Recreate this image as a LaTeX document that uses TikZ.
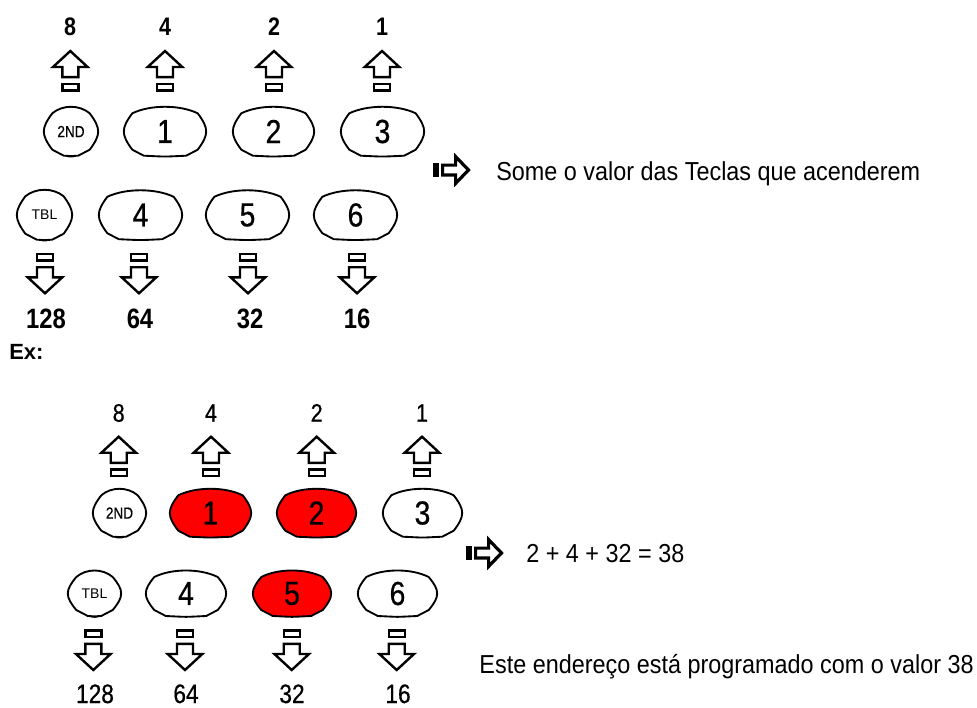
\documentclass[tikz,border=0pt]{standalone}
\usepackage{fontspec}
\setmainfont{Liberation Sans}
\newfontfamily\narrowfont{Liberation Sans}[FakeStretch=0.85]
\newfontfamily\keyfont{Liberation Sans}[FakeStretch=0.85, FakeBold=0.6]
\newfontfamily\notefont{Liberation Sans}[FakeStretch=0.9]
\usetikzlibrary{backgrounds}

\tikzset{every picture/.style={line width=0.75pt}}
\tikzset{
  keyline/.style={line width=1.4pt, line join=miter},
  blockline/.style={line width=1.8pt, line join=miter, fill=white},
  heavyline/.style={line width=2.4pt, line join=miter, fill=white},
  keydigit/.style={inner sep=0pt, font=\keyfont\fontsize{25}{29}\selectfont},
  keyword/.style={inner sep=0pt, font=\keyfont\fontsize{12}{14}\selectfont},
  weighttop/.style={inner sep=0pt, anchor=base, font=\narrowfont\bfseries\fontsize{19}{23}\selectfont},
  weightlow/.style={inner sep=0pt, anchor=base, font=\narrowfont\bfseries\fontsize{21}{25}\selectfont},
  weightthin/.style={inner sep=0pt, anchor=base, font=\keyfont\fontsize{19}{23}\selectfont},
  weightthinlow/.style={inner sep=0pt, anchor=base, font=\keyfont\fontsize{20}{24}\selectfont},
  notetext/.style={inner sep=0pt, font=\notefont\fontsize{19.5}{23}\selectfont},
  % pics keep y upwards: the tip is at the origin
  uparrow/.pic={
    \draw[blockline] (0,-1.7) -- (17.3,-17.7) -- (8,-17.7) -- (8,-27.8) -- (-8,-27.8) -- (-8,-17.7) -- (-17.3,-17.7) -- cycle;
    \draw[blockline] (-8,-34.6) rectangle (8,-41.2);
  },
  downarrow/.pic={
    \draw[blockline] (0,1.7) -- (17.3,17.7) -- (8,17.7) -- (8,27.8) -- (-8,27.8) -- (-8,17.7) -- (-17.3,17.7) -- cycle;
    \draw[blockline] (-8,34.6) rectangle (8,41.2);
  },
  rightarrow/.pic={
    \draw[heavyline] (-3.5,0) -- (-16.4,-13.4) -- (-16.4,-4.9) -- (-29.4,-4.9) -- (-29.4,4.9) -- (-16.4,4.9) -- (-16.4,13.4) -- cycle;
    \draw[heavyline] (-37.4,-5.4) rectangle (-34.6,5.4);
  }
}

% key outline round the node #1: half width #2, half height #3, fill #4
\newcommand{\keyshape}[4]{%
  \draw[keyline, fill=#4, shift={(#1.center)}]
    ({-(#2-8.5)},{-(#3-6.5)}) .. controls ({-0.45*(#2-8.5)},{-#3-2.2}) and ({0.45*(#2-8.5)},{-#3-2.2}) .. ({#2-8.5},{-(#3-6.5)})
    .. controls ({#2+2.8},-3) and ({#2+2.8},3) .. ({#2-8.5},{#3-6.5})
    -- ({#2-20},{#3-0.5}) .. controls ({#2-45},{#3+0.6}) and ({-(#2-45)},{#3+0.6}) .. ({-(#2-20)},{#3-0.5}) -- ({-(#2-8.5)},{#3-6.5})
    .. controls ({-#2-2.8},3) and ({-#2-2.8},-3) .. ({-(#2-8.5)},{-(#3-6.5)}) -- cycle;}

\begin{document}
\begin{tikzpicture}[x=0.75pt,y=0.75pt,yscale=-1,xscale=1]
    \useasboundingbox (0,0) rectangle (977,707);

    %Text: weights of the upper row
    \node[weighttop] (tw8) at (70,35) {8};
    \node[weighttop] (tw4) at (165,35) {4};
    \node[weighttop] (tw2) at (274,35) {2};
    \node[weighttop] (tw1) at (382,35) {1};
    %Shape: Up Arrows
    \pic at (70.3,49.3) {uparrow};
    \pic at (165,49.3) {uparrow};
    \pic at (274,49.3) {uparrow};
    \pic at (382,49.3) {uparrow};

    %Keys: upper row
    \node[keyword] (tk2nd) at (71,131.5) {2ND};
    \node[keydigit] (tk1) at (165,131.5) {1};
    \node[keydigit] (tk2) at (273.5,131.5) {2};
    \node[keydigit] (tk3) at (382.5,131.5) {3};
    %Keys: lower row
    \node[keyword, font=\fontsize{10.5}{12}\selectfont] (ttbl) at (44.5,215) {TBL};
    \node[keydigit] (tk4) at (140.5,215) {4};
    \node[keydigit] (tk5) at (247.5,215) {5};
    \node[keydigit] (tk6) at (355.5,215) {6};

    \begin{pgfonlayer}{background}
      \keyshape{tk2nd}{27.2}{24.7}{white}
      \keyshape{tk1}{41.2}{24.7}{white}
      \keyshape{tk2}{40.7}{24.7}{white}
      \keyshape{tk3}{41.7}{24.7}{white}
      \keyshape{ttbl}{27.7}{25.2}{white}
      \keyshape{tk4}{41.7}{24.7}{white}
      \keyshape{tk5}{41.7}{24.7}{white}
      \keyshape{tk6}{41.7}{24.7}{white}
    \end{pgfonlayer}

    %Shape: Right Arrow
    \pic at (472,170) {rightarrow};
    \node[notetext, anchor=base west] (tnote) at (496,180.7) {Some o valor das Teclas que acenderem};

    %Shape: Down Arrows
    \pic at (45,295) {downarrow};
    \pic at (139,295) {downarrow};
    \pic at (248,295) {downarrow};
    \pic at (357,295) {downarrow};
    %Text: weights of the lower row
    \node[weightlow] (tw128) at (46,328) {128};
    \node[weightlow] (tw64) at (140,328) {64};
    \node[weightlow] (tw32) at (250,328) {32};
    \node[weightlow] (tw16) at (357,328) {16};

    \node[inner sep=0pt, anchor=base west, font=\bfseries\fontsize{16.5}{20}\selectfont] (ex) at (9,359) {Ex:};

    %Text: weights of the upper row, example
    \node[weightthin] (bw8) at (118.7,421.7) {8};
    \node[weightthin] (bw4) at (211,421.7) {4};
    \node[weightthin] (bw2) at (316.7,421.7) {2};
    \node[weightthin] (bw1) at (422,421.7) {1};
    %Shape: Up Arrows
    \pic at (118.7,435) {uparrow};
    \pic at (211,435) {uparrow};
    \pic at (316.7,435) {uparrow};
    \pic at (422,435) {uparrow};

    %Keys: upper row, example
    \node[keyword] (bk2nd) at (119.5,513) {2ND};
    \node[keydigit] (bk1) at (210.5,513) {1};
    \node[keydigit] (bk2) at (316.5,513) {2};
    \node[keydigit] (bk3) at (422.5,513) {3};
    %Keys: lower row, example
    \node[keyword, font=\fontsize{10.5}{12}\selectfont] (btbl) at (94.5,593.5) {TBL};
    \node[keydigit] (bk4) at (186,593.5) {4};
    \node[keydigit] (bk5) at (292,593.5) {5};
    \node[keydigit] (bk6) at (397.5,593.5) {6};

    \begin{pgfonlayer}{background}
      \keyshape{bk2nd}{26.7}{24.2}{white}
      \keyshape{bk1}{40.7}{24.2}{red}
      \keyshape{bk2}{39.7}{24.2}{red}
      \keyshape{bk3}{39.7}{24.2}{white}
      \keyshape{btbl}{26.7}{23}{white}
      \keyshape{bk4}{40.2}{23}{white}
      \keyshape{bk5}{39.2}{23}{red}
      \keyshape{bk6}{39.7}{23}{white}
    \end{pgfonlayer}

    %Shape: Right Arrow
    \pic at (505,553) {rightarrow};
    \node[notetext, anchor=base west] (bsum) at (526,562) {2 + 4 + 32 = 38};

    %Shape: Down Arrows
    \pic at (93.3,671.7) {downarrow};
    \pic at (185,671.7) {downarrow};
    \pic at (291.7,671.7) {downarrow};
    \pic at (396.7,671.7) {downarrow};
    %Text: weights of the lower row, example
    \node[weightthinlow] (bw128) at (95,703) {128};
    \node[weightthinlow] (bw64) at (186,703) {64};
    \node[weightthinlow] (bw32) at (292,703) {32};
    \node[weightthinlow] (bw16) at (398,703) {16};

    \node[notetext, anchor=base east] (bnote) at (974,673) {Este endereço está programado com o valor 38};

\end{tikzpicture}
\end{document}
